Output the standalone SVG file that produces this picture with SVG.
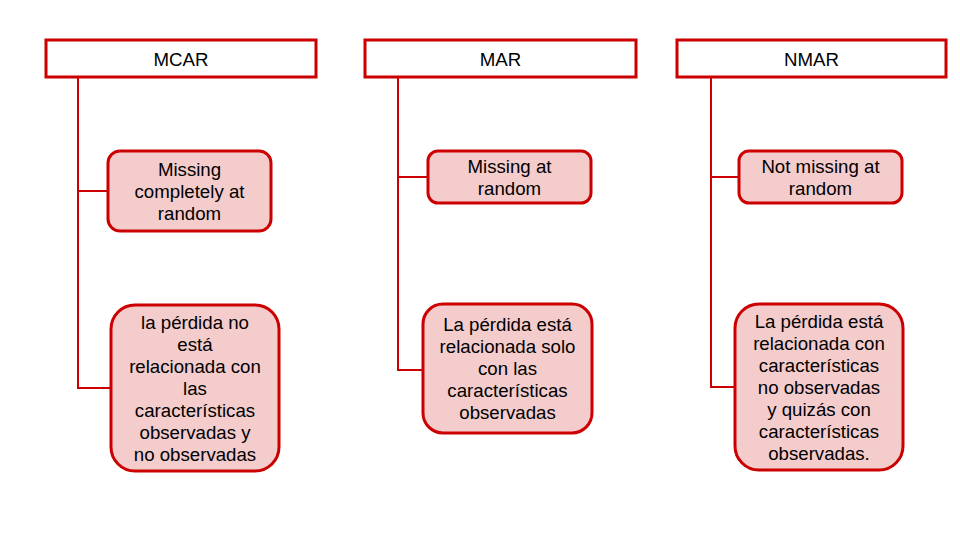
<svg xmlns="http://www.w3.org/2000/svg" width="960" height="540" viewBox="0 0 960 540">
<style>
.hdr{fill:#ffffff;stroke:#cc0000;stroke-width:3}
.box{fill:#f4cccc;stroke:#cc0000;stroke-width:3}
.conn{fill:none;stroke:#cc0000;stroke-width:2}
text{font-family:"Liberation Sans",Arial,sans-serif;font-size:18.67px;fill:#000000;text-anchor:middle}
</style>
<rect width="960" height="540" fill="#ffffff"/>
<g id="connectors">
<path class="conn" d="M78,77 V388 H111 M78,191 H108"/>
<path class="conn" d="M398,77 V370 H423 M398,177 H428"/>
<path class="conn" d="M711,77 V387 H735 M711,177 H739"/>
</g>
<g id="mcar"><rect class="hdr" x="46" y="40" width="270" height="37"/><text x="181" y="65.5">MCAR</text></g>
<g id="mar"><rect class="hdr" x="365" y="40" width="271" height="37"/><text x="500.5" y="65.5">MAR</text></g>
<g id="nmar"><rect class="hdr" x="677" y="40" width="269" height="37"/><text x="811.5" y="65.5">NMAR</text></g>
<g id="mcar-def"><rect class="box" x="108" y="151" width="163" height="80" rx="12"/>
<text x="189.5" y="175.5">Missing</text><text x="189.5" y="197.5">completely at</text><text x="189.5" y="219.5">random</text></g>
<g id="mcar-desc"><rect class="box" x="111" y="305" width="168" height="166" rx="24"/>
<text x="195" y="328.5">la pérdida no</text><text x="195" y="350.5">está</text><text x="195" y="372.5">relacionada con</text><text x="195" y="394.5">las</text><text x="195" y="416.5">características</text><text x="195" y="438.5">observadas y</text><text x="195" y="460.5">no observadas</text></g>
<g id="mar-def"><rect class="box" x="428" y="151" width="163" height="52" rx="10"/>
<text x="509.5" y="172.5">Missing at</text><text x="509.5" y="194.5">random</text></g>
<g id="mar-desc"><rect class="box" x="423" y="304" width="169" height="129" rx="20"/>
<text x="507.5" y="331">La pérdida está</text><text x="507.5" y="353">relacionada solo</text><text x="507.5" y="375">con las</text><text x="507.5" y="397">características</text><text x="507.5" y="419">observadas</text></g>
<g id="nmar-def"><rect class="box" x="739" y="151" width="163" height="52" rx="10"/>
<text x="820.5" y="172.5">Not missing at</text><text x="820.5" y="194.5">random</text></g>
<g id="nmar-desc"><rect class="box" x="735" y="304" width="168" height="166" rx="24"/>
<text x="819" y="327.5">La pérdida está</text><text x="819" y="349.5">relacionada con</text><text x="819" y="371.5">características</text><text x="819" y="393.5">no observadas</text><text x="819" y="415.5">y quizás con</text><text x="819" y="437.5">características</text><text x="819" y="459.5">observadas.</text></g>
</svg>
